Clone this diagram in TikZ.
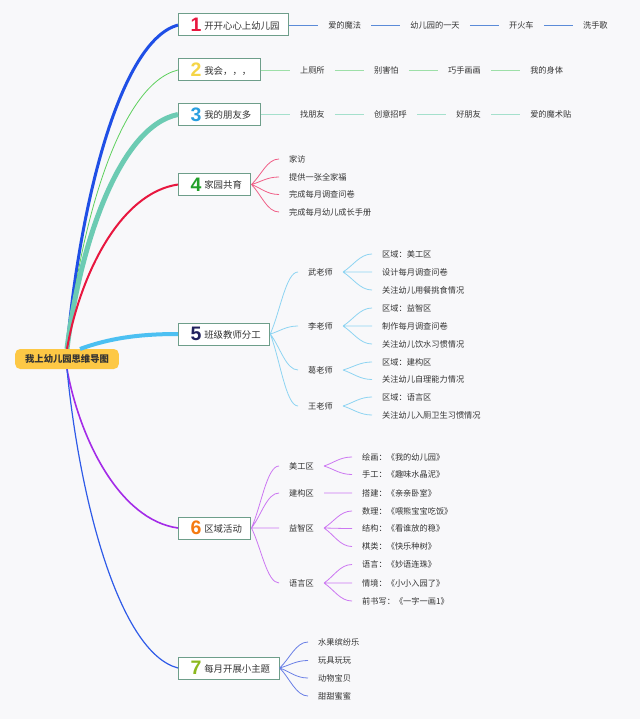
\documentclass[tikz,border=0pt]{standalone}
\usepackage{fontspec}
\setmainfont{Noto Sans CJK SC}
\newfontfamily\digitfont{Liberation Sans}
\usetikzlibrary{calc,positioning}

\definecolor{paper}{HTML}{F8F8FA}
\definecolor{textdark}{HTML}{333333}
\definecolor{boxline}{HTML}{6E9E8A}
\definecolor{rootyellow}{HTML}{FDC845}
\definecolor{cone}{HTML}{1F4FE6}
\definecolor{ctwo}{HTML}{5DD05D}
\definecolor{cthree}{HTML}{6CCBB3}
\definecolor{cfour}{HTML}{E8173F}
\definecolor{cfive}{HTML}{4CC0F2}
\definecolor{csix}{HTML}{A42BE8}
\definecolor{cseven}{HTML}{2F5BE8}
\definecolor{ntwo}{HTML}{F5D547}
\definecolor{nthree}{HTML}{2A9FE0}
\definecolor{nfour}{HTML}{22A02A}
\definecolor{nfive}{HTML}{22225E}
\definecolor{nsix}{HTML}{F57A10}
\definecolor{nseven}{HTML}{8CB81E}
\definecolor{lineblue}{HTML}{5B8BD8}
\definecolor{linegreen}{HTML}{9DDFA8}
\definecolor{linemint}{HTML}{A5E0CC}
\definecolor{fanfour}{HTML}{F06088}
\definecolor{fanfive}{HTML}{8ED4F2}
\definecolor{fansix}{HTML}{CC77F2}
\definecolor{fanseven}{HTML}{6A7FE6}

\begin{document}
\begin{tikzpicture}[x=1pt,y=-1pt,node distance=29pt,
    root/.style={
    % The shape:
    rectangle,rounded corners=5pt,minimum height=20pt,inner xsep=10pt,
    % The rest
    fill=rootyellow,text=textdark,
    font=\fontsize{9.3}{11}\selectfont\bfseries},
    topic/.style={
    % The shape:
    rectangle,minimum height=22pt,inner xsep=9pt,inner ysep=0pt,anchor=west,
    % The rest
    draw=boxline,line width=1pt,fill=white,
    text=textdark,font=\fontsize{9.4}{11}\selectfont},
    leaf/.style={inner xsep=10pt,inner ysep=2pt,
    text=textdark,font=\fontsize{8.2}{10}\selectfont},
    twig/.style={to path={.. controls ($(\tikztostart)!0.35!(\tikztotarget)$)
      and ($(\tikztotarget)+(-12,0)$) .. (\tikztotarget)}}]
    \fill[paper] (0,0) rectangle (640,719);

    % centre and main topics
    \node (root) [root] at (67,359) {我上幼儿园思维导图};
    \coordinate (rootside) at (80,349);
    \node (b1) [topic] at (178,25) {\hspace{3pt}\raisebox{-2.4pt}{\digitfont\bfseries\fontsize{19.5}{20}\selectfont\color{cfour}1}\hspace{3pt}开开心心上幼儿园};
    \node (b2) [topic] at (178,70) {\hspace{3pt}\raisebox{-2.4pt}{\digitfont\bfseries\fontsize{19.5}{20}\selectfont\color{ntwo}2}\hspace{3pt}我会，，，};
    \node (b3) [topic] at (178,114.5) {\hspace{3pt}\raisebox{-2.4pt}{\digitfont\bfseries\fontsize{19.5}{20}\selectfont\color{nthree}3}\hspace{3pt}我的朋友多};
    \node (b4) [topic] at (178,184.5) {\hspace{3pt}\raisebox{-2.4pt}{\digitfont\bfseries\fontsize{19.5}{20}\selectfont\color{nfour}4}\hspace{3pt}家园共育};
    \node (b5) [topic] at (178,334) {\hspace{3pt}\raisebox{-2.4pt}{\digitfont\bfseries\fontsize{19.5}{20}\selectfont\color{nfive}5}\hspace{3pt}班级教师分工};
    \node (b6) [topic] at (178,528) {\hspace{3pt}\raisebox{-2.4pt}{\digitfont\bfseries\fontsize{19.5}{20}\selectfont\color{nsix}6}\hspace{3pt}区域活动};
    \node (b7) [topic] at (178,668) {\hspace{3pt}\raisebox{-2.4pt}{\digitfont\bfseries\fontsize{19.5}{20}\selectfont\color{nseven}7}\hspace{3pt}每月开展小主题};

    \draw[cone,line width=3pt] (root.north) .. controls (80,203) and (120,41) .. (b1.west);
    \draw[ctwo,line width=0.8pt] (root.north) .. controls (80,223) and (120,84) .. (b2.west);
    \draw[cthree,line width=5pt] (root.north) .. controls (80,243) and (120,126) .. (b3.west);
    \draw[cfour,line width=2pt] (root.north) .. controls (80,275) and (120,193) .. (b4.west);
    \draw[cfive,line width=4pt] (rootside) .. controls (110,338) and (140,334) .. (b5.west);
    \draw[csix,line width=1.6pt] (root.south) .. controls (80,440) and (120,520) .. (b6.west);
    \draw[cseven,line width=1.2pt] (root.south) .. controls (80,503) and (120,653) .. (b7.west);

    % 1
    \node (magic) [leaf,right=of b1] {爱的魔法};
    \node (oneday) [leaf,right=of magic] {幼儿园的一天};
    \node (train) [leaf,right=of oneday] {开火车};
    \node (wash) [leaf,right=of train] {洗手歌};
    \draw[lineblue,line width=0.8pt] (b1.east) -- (magic) -- (oneday) -- (train) -- (wash);

    % 2
    \node (toilet) [leaf,right=of b2] {上厕所};
    \node (nofear) [leaf,right=of toilet] {别害怕};
    \node (paint) [leaf,right=of nofear] {巧手画画};
    \node (body) [leaf,right=of paint] {我的身体};
    \draw[linegreen,line width=0.8pt] (b2.east) -- (toilet) -- (nofear) -- (paint) -- (body);

    % 3
    \node (find) [leaf,right=of b3] {找朋友};
    \node (greet) [leaf,right=of find] {创意招呼};
    \node (pal) [leaf,right=of greet] {好朋友};
    \node (sticker) [leaf,right=of pal] {爱的魔术贴};
    \draw[linemint,line width=0.8pt] (b3.east) -- (find) -- (greet) -- (pal) -- (sticker);

    % 4
    \node (visit) [leaf,anchor=west] at (279,159) {家访};
    \node (photo) [leaf,anchor=west] at (279,177) {提供一张全家福};
    \node (survey) [leaf,anchor=west] at (279,194.5) {完成每月调查问卷};
    \node (growbook) [leaf,anchor=west] at (279,212) {完成每月幼儿成长手册};
    \draw[fanfour,line width=0.8pt,twig] (b4.east) to (visit.west) (b4.east) to (photo.west)
      (b4.east) to (survey.west) (b4.east) to (growbook.west);

    % 5
    \node (wu) [leaf,anchor=west] at (298,272) {武老师};
    \node (li) [leaf,anchor=west] at (298,326) {李老师};
    \node (ge) [leaf,anchor=west] at (298,370) {葛老师};
    \node (wang) [leaf,anchor=west] at (298,406) {王老师};
    \node (wua) [leaf,anchor=west] at (372,254) {区域：美工区};
    \node (wub) [leaf,anchor=west] at (372,272) {设计每月调查问卷};
    \node (wuc) [leaf,anchor=west] at (372,290) {关注幼儿用餐挑食情况};
    \node (lia) [leaf,anchor=west] at (372,308) {区域：益智区};
    \node (lib) [leaf,anchor=west] at (372,326) {制作每月调查问卷};
    \node (lic) [leaf,anchor=west] at (372,344) {关注幼儿饮水习惯情况};
    \node (gea) [leaf,anchor=west] at (372,362) {区域：建构区};
    \node (geb) [leaf,anchor=west] at (372,379.5) {关注幼儿自理能力情况};
    \node (wanga) [leaf,anchor=west] at (372,397) {区域：语言区};
    \node (wangb) [leaf,anchor=west] at (372,415) {关注幼儿入厕卫生习惯情况};
    \draw[fanfive,line width=0.8pt,twig] (b5.east) to (wu.west) (b5.east) to (li.west)
      (b5.east) to (ge.west) (b5.east) to (wang.west)
      (wu.east) to (wua.west) (wu.east) to (wub.west) (wu.east) to (wuc.west)
      (li.east) to (lia.west) (li.east) to (lib.west) (li.east) to (lic.west)
      (ge.east) to (gea.west) (ge.east) to (geb.west)
      (wang.east) to (wanga.west) (wang.east) to (wangb.west);

    % 6
    \node (art) [leaf,anchor=west] at (279,466) {美工区};
    \node (build) [leaf,anchor=west] at (279,493) {建构区};
    \node (puzzle) [leaf,anchor=west] at (279,528) {益智区};
    \node (lang) [leaf,anchor=west] at (279,583) {语言区};
    \node (arta) [leaf,anchor=west] at (352,457) {绘画：《我的幼儿园》};
    \node (artb) [leaf,anchor=west] at (352,474.5) {手工：《趣味水晶泥》};
    \node (builda) [leaf,anchor=west] at (352,493) {搭建：《亲亲卧室》};
    \node (puzzlea) [leaf,anchor=west] at (352,511) {数理：《喂熊宝宝吃饭》};
    \node (puzzleb) [leaf,anchor=west] at (352,528.5) {结构：《看谁放的稳》};
    \node (puzzlec) [leaf,anchor=west] at (352,546.5) {棋类：《快乐种树》};
    \node (langa) [leaf,anchor=west] at (352,564.5) {语言：《妙语连珠》};
    \node (langb) [leaf,anchor=west] at (352,583) {情境：《小小入园了》};
    \node (langc) [leaf,anchor=west] at (352,601) {前书写：《一字一画1》};
    \draw[fansix,line width=0.8pt,twig] (b6.east) to (art.west) (b6.east) to (build.west)
      (b6.east) to (puzzle.west) (b6.east) to (lang.west)
      (art.east) to (arta.west) (art.east) to (artb.west)
      (build.east) to (builda.west)
      (puzzle.east) to (puzzlea.west) (puzzle.east) to (puzzleb.west) (puzzle.east) to (puzzlec.west)
      (lang.east) to (langa.west) (lang.east) to (langb.west) (lang.east) to (langc.west);

    % 7
    \node (fruit) [leaf,anchor=west] at (308,642) {水果缤纷乐};
    \node (toys) [leaf,anchor=west] at (308,660.5) {玩具玩玩};
    \node (pets) [leaf,anchor=west] at (308,678) {动物宝贝};
    \node (sweet) [leaf,anchor=west] at (308,696) {甜甜蜜蜜};
    \draw[fanseven,line width=0.8pt,twig] (b7.east) to (fruit.west) (b7.east) to (toys.west)
      (b7.east) to (pets.west) (b7.east) to (sweet.west);
\end{tikzpicture}
\end{document}
